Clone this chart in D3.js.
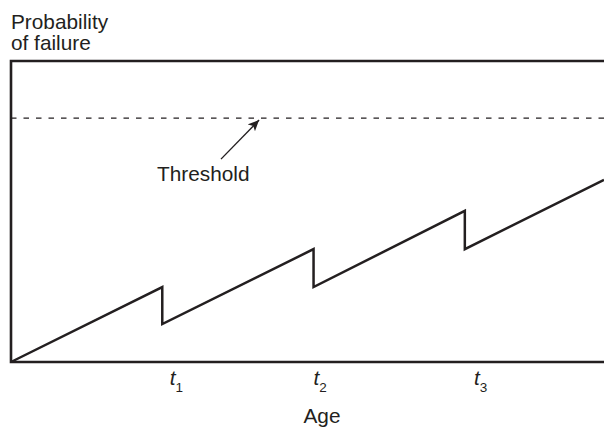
<!DOCTYPE html>
<html>
<head>
<meta charset="utf-8">
<script src="https://cdn.jsdelivr.net/npm/d3@7"></script>
<style>
  html, body { margin: 0; padding: 0; background: #fff; }
  svg { display: block; }
  text { font-family: "Liberation Sans", Arial, Helvetica, sans-serif; fill: #231f20; }
</style>
</head>
<body>
<svg id="chart" width="604" height="428"></svg>
<script>
// ---- data ----
const ageValues   = [0, 1, 1, 2, 2, 3, 3, 3.92];
const probValues  = [0, 0.249, 0.126, 0.375, 0.249, 0.502, 0.375, 0.605];
const thresholdValue = 0.81;
const tickAges    = [1.05, 2.0, 3.06];
const tickLabels  = ["1", "2", "3"];
const arrowFrom   = [1.388, 0.674];
const arrowTo     = [1.64, 0.804];
const yTitle      = ["Probability", "of failure"];
const xTitle      = "Age";
const annotation  = "Threshold";

// ---- layout ----
const plotLeft = 11, plotRight = 604, plotTop = 61, plotBottom = 362;
const ink = "#231f20";
const fs = 20.8;

const x = d3.scaleLinear().domain([0, 3.92]).range([plotLeft, plotRight]);
const y = d3.scaleLinear().domain([0, 1]).range([plotBottom, plotTop]);

const svg = d3.select("#chart");

svg.append("defs").append("marker")
  .attr("id", "arrow")
  .attr("viewBox", "0 0 10 10")
  .attr("refX", 10).attr("refY", 5)
  .attr("markerWidth", 11).attr("markerHeight", 11)
  .attr("markerUnits", "userSpaceOnUse")
  .attr("orient", "auto")
  .append("path").attr("d", "M0,0.5 L10,5 L0,9.5 L2.5,5 Z").attr("fill", ink);

// threshold dashed line
svg.append("line")
  .attr("x1", x(0)).attr("x2", plotRight)
  .attr("y1", y(thresholdValue)).attr("y2", y(thresholdValue))
  .attr("stroke", ink).attr("stroke-width", 1.2)
  .attr("stroke-dasharray", "5.5,7");

// sawtooth line
const pts = ageValues.map((a, i) => [a, probValues[i]]);
svg.append("path")
  .datum(pts)
  .attr("fill", "none")
  .attr("stroke", ink)
  .attr("stroke-width", 2.5)
  .attr("stroke-linejoin", "miter")
  .attr("d", d3.line().x(d => x(d[0])).y(d => y(d[1])));

// frame: top, left, bottom
svg.append("path")
  .attr("fill", "none")
  .attr("stroke", ink)
  .attr("stroke-width", 2.6)
  .attr("d", `M${plotRight},${y(1)} L${x(0)},${y(1)} L${x(0)},${y(0)} L${plotRight},${y(0)}`);

// arrow annotation
svg.append("line")
  .attr("x1", x(arrowFrom[0])).attr("y1", y(arrowFrom[1]))
  .attr("x2", x(arrowTo[0])).attr("y2", y(arrowTo[1]))
  .attr("stroke", ink).attr("stroke-width", 1.4)
  .attr("marker-end", "url(#arrow)");

svg.append("text")
  .attr("x", 157).attr("y", 181)
  .attr("font-size", fs)
  .text(annotation);

// y title
svg.selectAll("text.ytitle").data(yTitle).enter().append("text")
  .attr("class", "ytitle")
  .attr("x", 11).attr("y", (d, i) => 29 + i * 21)
  .attr("font-size", fs)
  .text(d => d);

// t labels
const tl = svg.selectAll("text.tlab").data(tickAges).enter().append("text")
  .attr("class", "tlab")
  .attr("x", d => x(d)).attr("y", 385)
  .attr("text-anchor", "start")
  .attr("font-size", fs);
tl.append("tspan").attr("font-style", "italic").text("t");
tl.append("tspan").attr("font-size", 13.5).attr("dy", 7).text((d, i) => tickLabels[i]);

// x title
svg.append("text")
  .attr("x", 322).attr("y", 423)
  .attr("text-anchor", "middle")
  .attr("font-size", fs)
  .text(xTitle);
</script>
</body>
</html>
